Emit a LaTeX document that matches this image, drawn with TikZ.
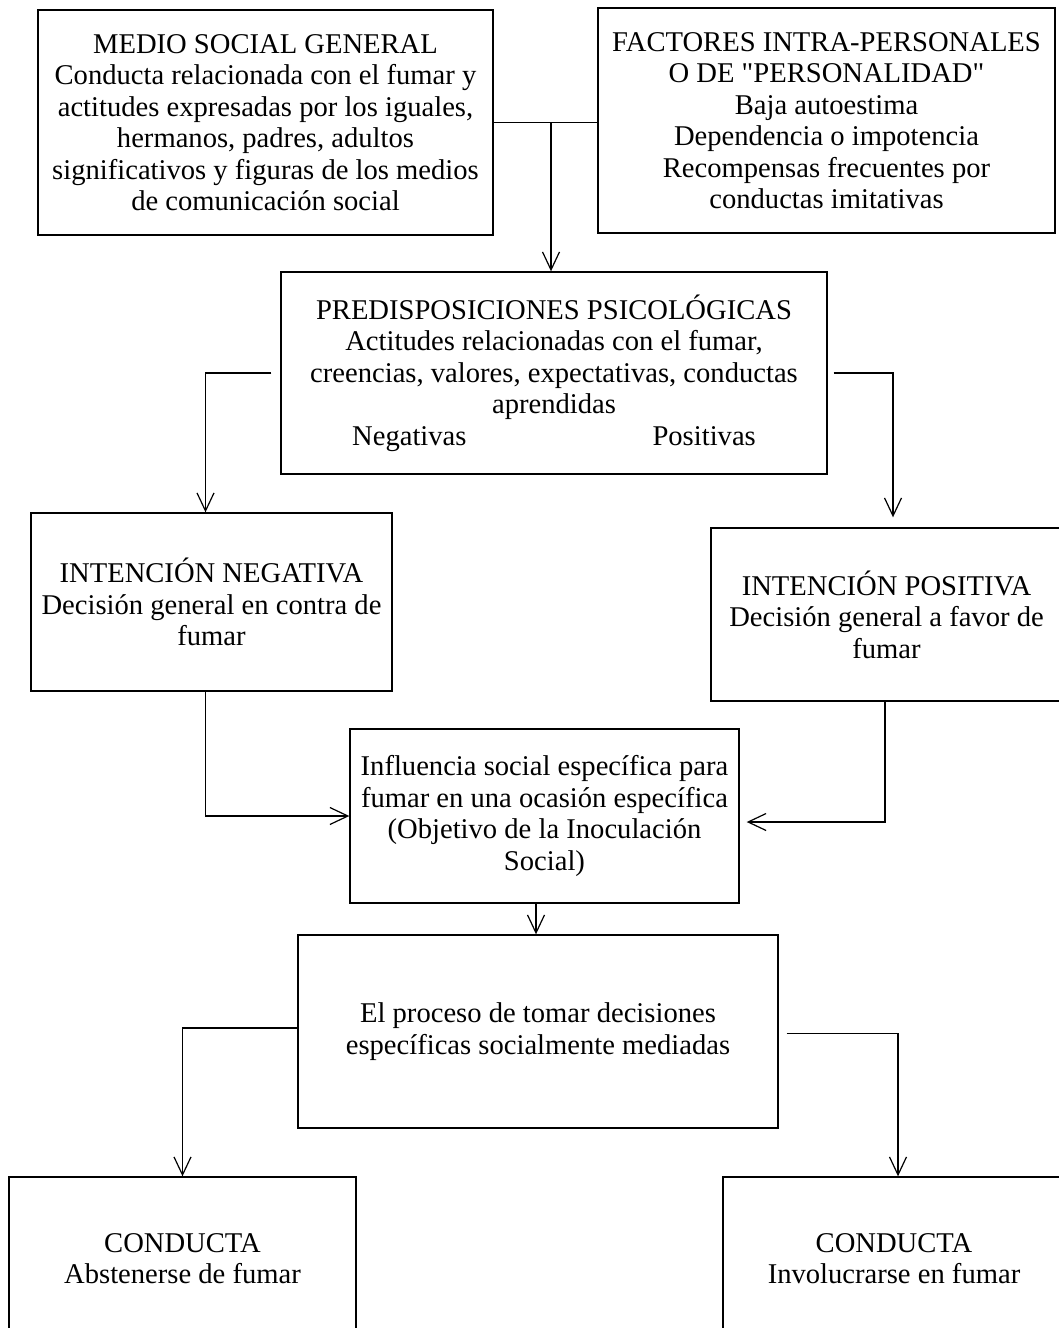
\documentclass[tikz,border=0pt]{standalone}
\usepackage{fontspec}
\setmainfont{Liberation Serif}
\newfontfamily\plainquotes{Liberation Serif}
\usetikzlibrary{arrows.meta}
\begin{document}
\begin{tikzpicture}[x=0.5pt,y=-0.5pt,
  box/.style={draw, line width=0.7pt, inner sep=0pt, align=center,
    font=\fontsize{14.3pt}{15.75pt}\selectfont, anchor=center},
  arr/.style={-{Straight Barb[length=9pt,width=8.5pt]}, line width=0.6pt},
  ln/.style={line width=0.6pt}]
\useasboundingbox (0,0) rectangle (1059,1328);

\node[box, minimum width=227.5pt, minimum height=112.5pt] (medio) at (265.5,122.5)
  {MEDIO SOCIAL GENERAL\\Conducta relacionada con el fumar y\\actitudes expresadas por los iguales,\\hermanos, padres, adultos\\significativos y figuras de los medios\\de comunicación social};
\node[box, minimum width=228.5pt, minimum height=112.5pt] (fact) at (826.5,120.5)
  {FACTORES INTRA-PERSONALES\\O DE {\plainquotes "PERSONALIDAD"}\\Baja autoestima\\Dependencia o impotencia\\Recompensas frecuentes por\\conductas imitativas};
\node[box, minimum width=273pt, minimum height=101pt] (pred) at (554,373)
  {PREDISPOSICIONES PSICOLÓGICAS\\Actitudes relacionadas con el fumar,\\creencias, valores, expectativas, conductas\\aprendidas\\Negativas\hspace{93pt}Positivas};
\node[box, minimum width=180.5pt, minimum height=89pt] (neg) at (211.5,602)
  {INTENCIÓN NEGATIVA\\Decisión general en contra de\\fumar};
\node[box, minimum width=175.5pt, minimum height=86.5pt] (pos) at (886.5,614.5)
  {INTENCIÓN POSITIVA\\Decisión general a favor de\\fumar};
\node[box, minimum width=194.5pt, minimum height=87pt] (infl) at (544.5,816)
  {Influencia social específica para\\fumar en una ocasión específica\\(Objetivo de la Inoculación\\Social)};
\node[box, minimum width=240pt, minimum height=96.5pt] (proc) at (538,1031.5)
  {El proceso de tomar decisiones\\específicas socialmente mediadas};
\node[box, minimum width=173.5pt, minimum height=81.5pt] (abst) at (182.5,1258.5)
  {CONDUCTA\\Abstenerse de fumar};
\node[box, minimum width=171pt, minimum height=81.5pt] (invol) at (894,1258.5)
  {CONDUCTA\\Involucrarse en fumar};

\coordinate (j) at (551,122.5);
\draw[ln] (medio.east) -- (medio.east -| fact.west);
\draw[arr] (j) -- (j |- pred.north);

\draw[arr] ([xshift=-4.5pt]pred.west) -| ([xshift=-3pt]neg.north);
\draw[arr] ([xshift=3pt]pred.east) -| ([xshift=3.25pt,yshift=5pt]pos.north);

\draw[arr] ([xshift=-3pt]neg.south) |- (infl.west);
\draw[arr] ([xshift=-0.75pt]pos.south) |- ([xshift=3.5pt,yshift=-3pt]infl.east);

\coordinate (d) at ([xshift=-4.25pt]infl.south);
\draw[arr] (d) -- (d |- proc.north);

\draw[arr] ([yshift=1.75pt]proc.west) -| (abst.north);
\draw[arr] ([xshift=4pt,yshift=-1pt]proc.east) -| ([xshift=2pt]invol.north);
\end{tikzpicture}
\end{document}
